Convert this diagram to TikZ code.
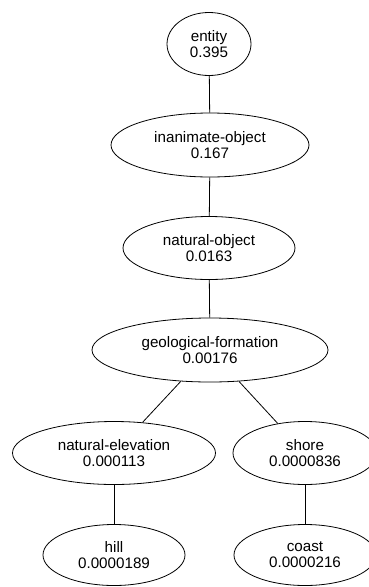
\documentclass[tikz,border=0pt]{standalone}
\usepackage{fontspec}
\setmainfont{Liberation Sans}
\usetikzlibrary{shapes.geometric}
\tikzset{
  concept/.style={draw, ellipse, inner sep=0pt, align=center, line width=0.8pt,
    font=\fontsize{15.2}{16}\selectfont},
  link/.style={line width=0.8pt}
}
\begin{document}
\begin{tikzpicture}[x=1pt,y=-1pt]
  \useasboundingbox (0,0) rectangle (369,587);
  \node[concept, minimum width=84, minimum height=63]  (entity) at (209,44)  {entity\\0.395};
  \node[concept, minimum width=198, minimum height=64] (inan)   at (210,145) {inanimate-object\\0.167};
  \node[concept, minimum width=172, minimum height=63] (natobj) at (209,248) {natural-object\\0.0163};
  \node[concept, minimum width=236, minimum height=64] (geo)    at (210,350) {geological-formation\\0.00176};
  \node[concept, minimum width=203, minimum height=63] (natel)  at (114,453) {natural-elevation\\0.000113};
  \node[concept, minimum width=144, minimum height=63] (shore)  at (305,453) {shore\\0.0000836};
  \node[concept, minimum width=142, minimum height=61] (hill)   at (114,555) {hill\\0.0000189};
  \node[concept, minimum width=142, minimum height=61] (coast)  at (305,555) {coast\\0.0000216};
  \draw[link] (entity) -- (inan);
  \draw[link] (inan) -- (natobj);
  \draw[link] (natobj) -- (geo);
  \draw[link] (geo) -- (natel);
  \draw[link] (geo) -- (shore);
  \draw[link] (natel) -- (hill);
  \draw[link] (shore) -- (coast);
\end{tikzpicture}
\end{document}
